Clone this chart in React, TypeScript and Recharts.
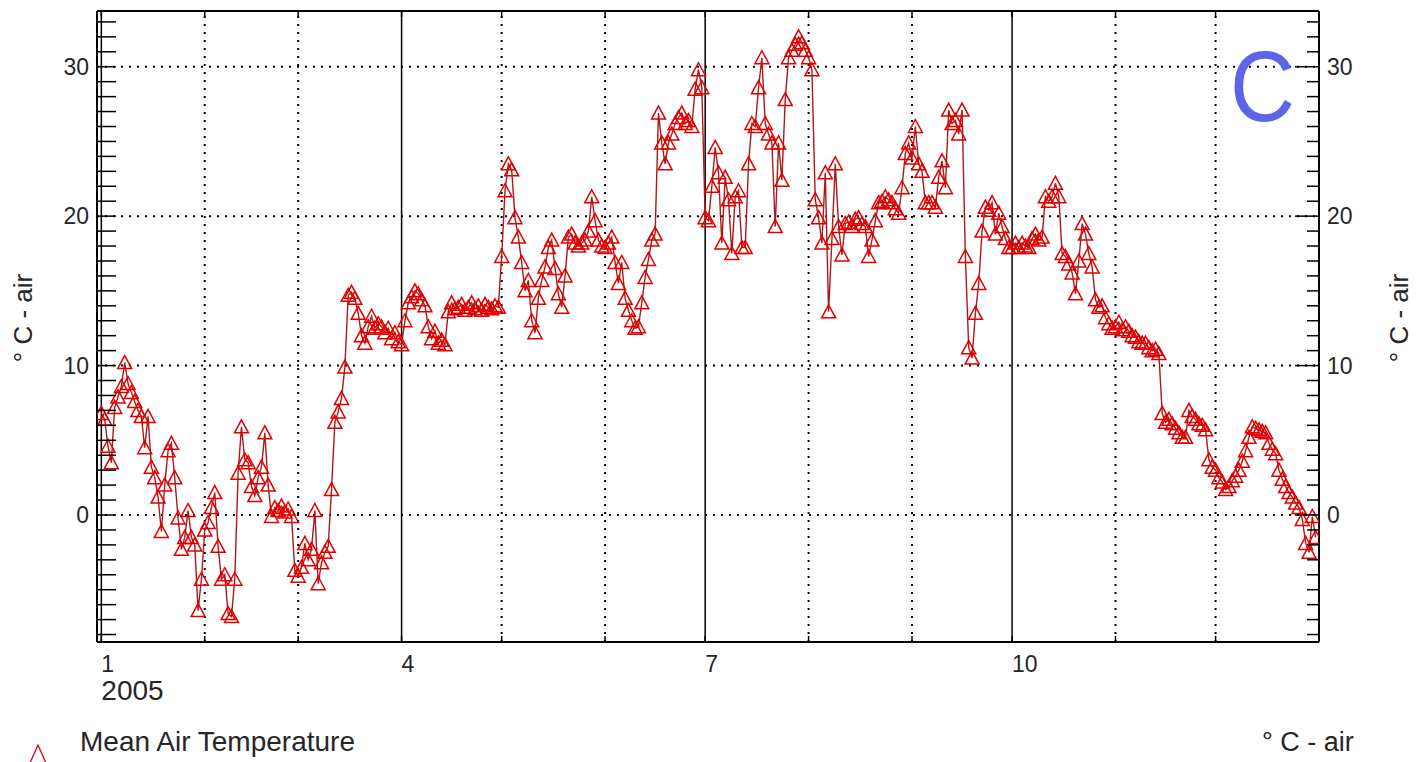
import React from "react";
import { LineChart, Line, XAxis, YAxis, ReferenceLine } from "recharts";

// daily mean air temperature (°C), 2005, one array per month
const jan = [6.8, 6.4, 4.6, 3.5, 7.2, 7.9, 8.6, 10.2, 8.8, 8.2, 7.6, 7.0, 6.6, 4.5, 6.6, 3.2, 2.5, 1.2, -1.1, 2.0, 4.3, 4.8, 2.5, -0.2, -2.3, -1.5, 0.3, -1.5, -2.0, -6.4, -4.3];
const feb = [-1.0, -0.5, 0.5, 1.5, -2.1, -4.3, -4.0, -6.6, -6.8, -4.3, 2.8, 5.9, 3.7, 3.5, 1.9, 1.3, 2.5, 3.2, 5.5, 2.0, -0.1, 0.5, 0.3, 0.6, 0.2, 0.4, -0.1, -3.7];
const mar = [-4.1, -3.5, -1.9, -3.0, -2.3, 0.3, -4.6, -3.2, -2.5, -2.1, 1.7, 6.2, 6.9, 7.8, 9.9, 14.7, 14.9, 14.5, 13.5, 12.0, 11.5, 12.6, 13.3, 12.5, 12.8, 12.6, 12.2, 12.5, 11.8, 12.2, 11.6];
const apr = [11.4, 13.0, 14.2, 14.6, 15.0, 14.8, 14.4, 14.0, 12.6, 11.8, 12.3, 11.5, 11.7, 11.4, 13.6, 14.2, 13.8, 13.9, 14.1, 13.7, 13.9, 14.2, 13.8, 14.0, 13.7, 14.1, 13.9, 13.8, 14.0, 13.9];
const may = [17.3, 21.7, 23.5, 23.1, 19.9, 18.6, 16.9, 15.0, 15.7, 13.0, 12.2, 14.5, 15.7, 16.6, 17.9, 18.4, 16.5, 14.8, 13.9, 16.0, 18.6, 18.8, 18.2, 18.0, 18.2, 18.4, 19.0, 21.3, 19.7, 18.4, 18.0];
const jun = [17.9, 18.2, 18.6, 16.9, 15.5, 16.9, 14.5, 13.7, 13.0, 12.5, 12.6, 14.2, 15.9, 17.1, 18.4, 18.8, 26.9, 24.9, 23.5, 24.9, 25.5, 26.2, 26.6, 26.9, 26.2, 26.4, 26.0, 28.5, 29.8, 28.6];
const jul = [19.9, 19.7, 22.0, 24.6, 22.9, 18.2, 22.6, 21.1, 17.5, 21.3, 21.7, 17.9, 17.9, 23.5, 26.2, 26.0, 28.6, 30.6, 26.2, 25.5, 24.9, 19.3, 24.9, 22.4, 27.8, 30.6, 31.1, 31.5, 32.0, 31.6, 31.1];
const aug = [30.6, 29.8, 21.1, 19.9, 18.2, 22.9, 13.6, 18.5, 23.5, 19.3, 17.4, 19.5, 19.6, 19.3, 19.8, 19.9, 19.5, 19.3, 17.3, 18.4, 19.7, 20.9, 21.0, 21.3, 21.1, 20.9, 20.5, 20.2, 21.9, 24.2, 24.9];
const sep = [23.9, 26.0, 23.5, 23.0, 20.9, 20.9, 20.9, 20.6, 22.6, 23.7, 21.9, 27.1, 26.2, 26.4, 25.5, 27.1, 17.3, 11.2, 10.5, 13.5, 15.5, 19.0, 20.6, 20.4, 20.9, 18.8, 20.2, 19.3, 18.5, 17.9];
const oct = [17.9, 18.2, 17.9, 18.2, 18.0, 17.9, 18.5, 18.8, 18.4, 18.6, 21.3, 21.0, 21.3, 22.2, 21.3, 17.5, 17.3, 16.8, 16.2, 14.8, 17.0, 19.5, 18.8, 17.5, 16.6, 14.4, 13.9, 14.0, 13.2, 12.8, 12.5];
const nov = [12.6, 12.9, 12.4, 12.6, 12.3, 12.0, 11.9, 11.6, 11.5, 11.5, 11.2, 11.0, 11.1, 10.8, 6.8, 6.2, 6.4, 6.1, 5.8, 5.5, 5.2, 5.2, 7.0, 6.6, 6.4, 6.1, 6.0, 5.7, 3.7, 3.2];
const dec = [3.0, 2.5, 2.2, 1.7, 1.9, 2.3, 2.6, 3.0, 3.6, 4.3, 5.2, 5.9, 5.8, 5.7, 5.6, 5.5, 4.8, 4.4, 4.1, 3.0, 2.4, 1.9, 1.5, 1.2, 0.8, 0.5, -0.3, -1.9, -2.5, -0.1, -1.5];

// day-of-year where each month starts, and the labels shown under them
const monthStarts = [0, 31, 59, 90, 120, 151, 181, 212, 243, 273, 304, 334];
const monthLabels = ["1", "", "", "4", "", "", "7", "", "", "10", "", ""];
const quarterStarts = [0, 90, 181, 273];
const yearLabel = "2005";

const yTicks = [-8, -7, -6, -5, -4, -3, -2, -1, 0, 1, 2, 3, 4, 5, 6, 7, 8, 9, 10, 11, 12, 13, 14, 15, 16, 17, 18, 19, 20, 21, 22, 23, 24, 25, 26, 27, 28, 29, 30, 31, 32, 33];
const gridTemps = [0, 10, 20, 30];

const meanAirTemp = [...jan, ...feb, ...mar, ...apr, ...may, ...jun, ...jul, ...aug, ...sep, ...oct, ...nov, ...dec];
const chartData = meanAirTemp.map((t, i) => ({ day: i, temp: t }));

const FONT = "'Liberation Sans', Arial, sans-serif";
const LABEL = "#262626";
const RED = "#e00000";

const TriangleDot = (props: any) => {
  const { cx, cy, index } = props;
  if (cx == null || cy == null) return <g key={`t-${index}`} />;
  return (
    <polygon
      key={`t-${index}`}
      points={`${cx - 7},${cy + 6} ${cx},${cy - 7} ${cx + 7},${cy + 6}`}
      fill="none"
      stroke={RED}
      strokeWidth={1.5}
    />
  );
};

const BottomTick = ({ x, y, payload }: any) => {
  const i = monthStarts.indexOf(payload.value);
  const label = monthLabels[i];
  return (
    <g>
      <line x1={x} y1={y} x2={x} y2={y - 6} stroke="#000" strokeWidth={1.5} />
      {label && (
        <text x={x} y={y + 30} fontSize={23} fill={LABEL} fontFamily={FONT}>
          {label}
        </text>
      )}
      {i === 0 && (
        <text x={x} y={y + 58} fontSize={28} fill={LABEL} fontFamily={FONT}>
          {yearLabel}
        </text>
      )}
    </g>
  );
};

const TopTick = ({ x, y }: any) => (
  <line x1={x} y1={y} x2={x} y2={y + 6} stroke="#000" strokeWidth={1.5} />
);

const LeftTick = ({ x, y, payload }: any) => {
  const major = payload.value % 10 === 0;
  return (
    <g>
      <line x1={x} y1={y} x2={x + 19} y2={y} stroke="#000" strokeWidth={1.5} />
      {major && (
        <text x={x - 8} y={y} dy="0.36em" textAnchor="end" fontSize={23} fill={LABEL} fontFamily={FONT}>
          {payload.value}
        </text>
      )}
    </g>
  );
};

const RightTick = ({ x, y, payload }: any) => {
  const major = payload.value % 10 === 0;
  return (
    <g>
      <line x1={x} y1={y} x2={x - (major ? 24 : 12)} y2={y} stroke="#000" strokeWidth={1.5} />
      {major && (
        <text x={x + 8} y={y} dy="0.36em" textAnchor="start" fontSize={23} fill={LABEL} fontFamily={FONT}>
          {payload.value}
        </text>
      )}
    </g>
  );
};

const App: React.FC = () => {
  const axisLine = { stroke: "#000", strokeWidth: 2 };
  return (
    <div style={{ position: "absolute", left: 0, top: 0, width: 1426, height: 762, background: "#fff" }}>
      <LineChart width={1426} height={762} data={chartData} margin={{ top: 0, right: 0, bottom: 0, left: 0 }}>
        <XAxis
          dataKey="day"
          type="number"
          domain={[-1.3, 365]}
          allowDataOverflow
          ticks={monthStarts}
          interval={0}
          height={120}
          tickSize={0}
          tickMargin={0}
          tickLine={false}
          axisLine={axisLine}
          tick={<BottomTick />}
        />
        <XAxis
          xAxisId="top"
          orientation="top"
          dataKey="day"
          type="number"
          domain={[-1.3, 365]}
          allowDataOverflow
          ticks={monthStarts}
          interval={0}
          height={11}
          tickSize={0}
          tickMargin={0}
          tickLine={false}
          axisLine={axisLine}
          tick={<TopTick />}
        />
        <YAxis
          type="number"
          domain={[-8.5, 33.73]}
          allowDataOverflow
          ticks={yTicks}
          interval={0}
          width={97}
          tickSize={0}
          tickMargin={0}
          tickLine={false}
          axisLine={axisLine}
          tick={<LeftTick />}
        />
        <YAxis
          yAxisId="right"
          orientation="right"
          type="number"
          domain={[-8.5, 33.73]}
          allowDataOverflow
          ticks={yTicks}
          interval={0}
          width={107}
          tickSize={0}
          tickMargin={0}
          tickLine={false}
          axisLine={axisLine}
          tick={<RightTick />}
        />
        {gridTemps.map((v) => (
          <ReferenceLine key={`h-${v}`} y={v} stroke="#000" strokeWidth={2} strokeDasharray="2 6" />
        ))}
        {monthStarts
          .filter((d) => !quarterStarts.includes(d))
          .map((d) => (
            <ReferenceLine key={`v-${d}`} x={d} stroke="#000" strokeWidth={2} strokeDasharray="2 6" />
          ))}
        {quarterStarts.map((d) => (
          <ReferenceLine key={`q-${d}`} x={d} stroke="#000" strokeWidth={1.5} />
        ))}
        <Line
          type="linear"
          dataKey="temp"
          stroke="#b01818"
          strokeWidth={1.4}
          dot={TriangleDot}
          activeDot={false}
          isAnimationActive={false}
        />
      </LineChart>
      <svg
        width={1426}
        height={762}
        style={{ position: "absolute", left: 0, top: 0, pointerEvents: "none" }}
        fontFamily={FONT}
      >
        <text transform="translate(1230,121) scale(0.9,1)" fontSize={100} fill="#5c64e8">
          C
        </text>
        <text transform="translate(32,318) rotate(-90)" textAnchor="middle" fontSize={26} fill={LABEL}>
          ° C - air
        </text>
        <text transform="translate(1408,318) rotate(-90)" textAnchor="middle" fontSize={26} fill={LABEL}>
          ° C - air
        </text>
        <polygon points="38,745 26,772 50,772" fill="none" stroke={RED} strokeWidth={1.3} />
        <text x={80} y={751} fontSize={28} fill={LABEL}>
          Mean Air Temperature
        </text>
        <text x={1262} y={751} fontSize={27} fill={LABEL}>
          ° C - air
        </text>
      </svg>
    </div>
  );
};

export default App;
